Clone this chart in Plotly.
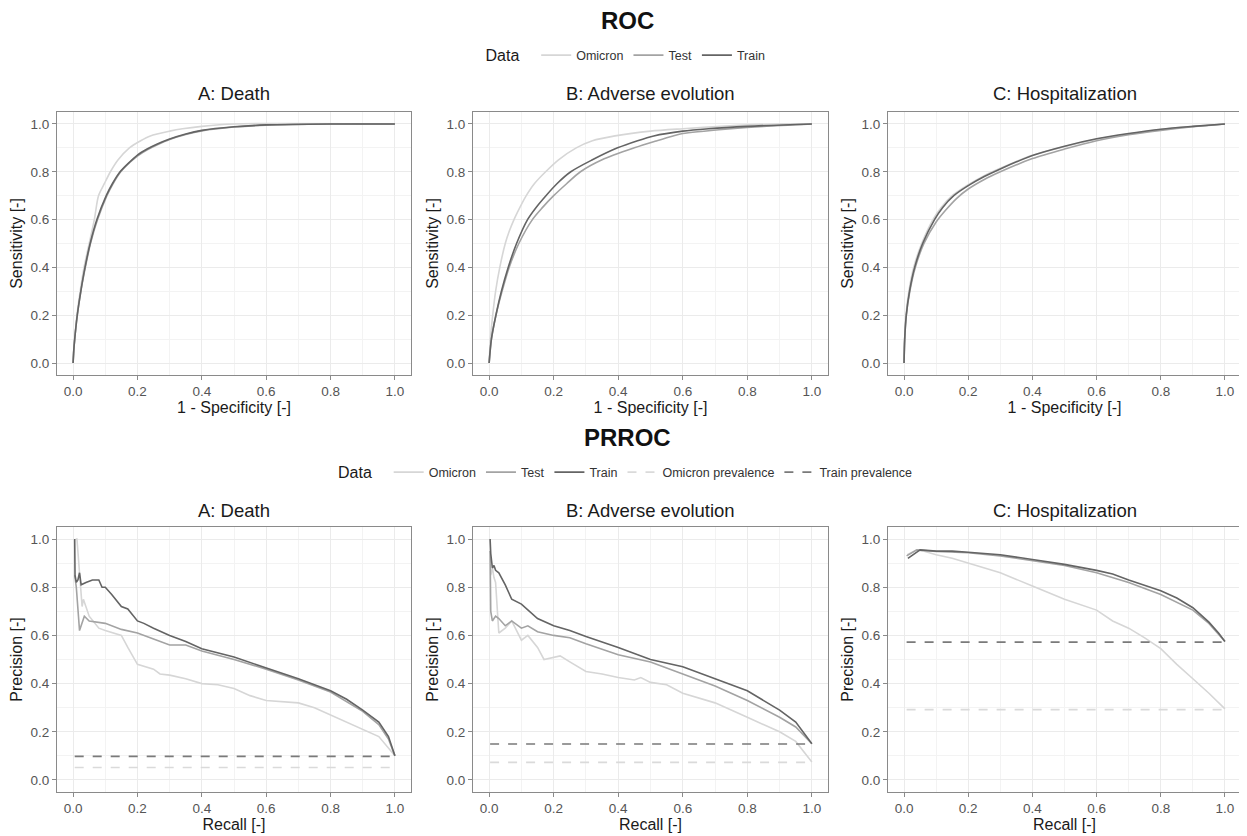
import plotly.graph_objects as go

# ---------- data ----------
PANELS = ["A: Death", "B: Adverse evolution", "C: Hospitalization"]

# ROC: 1 - specificity (x) / sensitivity (y)
roc_death_train_x = [0, 0.002, 0.005, 0.013, 0.024, 0.037, 0.053, 0.074, 0.103, 0.122, 0.146, 0.175, 0.2, 0.23, 0.26, 0.3, 0.35, 0.4, 0.5, 0.6, 0.8, 1.0]
roc_death_train_y = [0, 0.05, 0.1, 0.2, 0.3, 0.4, 0.5, 0.6, 0.7, 0.75, 0.8, 0.84, 0.87, 0.895, 0.915, 0.937, 0.958, 0.973, 0.988, 0.996, 1.0, 1.0]
roc_death_test_x = [0, 0.002, 0.005, 0.013, 0.024, 0.038, 0.054, 0.076, 0.105, 0.124, 0.148, 0.177, 0.202, 0.232, 0.262, 0.3, 0.35, 0.4, 0.5, 0.6, 0.8, 1.0]
roc_death_test_y = [0, 0.05, 0.1, 0.2, 0.3, 0.4, 0.5, 0.6, 0.7, 0.75, 0.8, 0.84, 0.868, 0.893, 0.913, 0.935, 0.956, 0.971, 0.987, 0.995, 1.0, 1.0]
roc_death_omicron_x = [0, 0.002, 0.005, 0.012, 0.022, 0.034, 0.05, 0.066, 0.079, 0.097, 0.116, 0.14, 0.175, 0.21, 0.24, 0.3, 0.34, 0.4, 0.5, 1.0]
roc_death_omicron_y = [0, 0.05, 0.1, 0.2, 0.3, 0.4, 0.5, 0.6, 0.7, 0.75, 0.8, 0.85, 0.9, 0.93, 0.95, 0.97, 0.98, 0.99, 1.0, 1.0]

roc_adv_train_x = [0, 0.007, 0.021, 0.038, 0.059, 0.085, 0.119, 0.145, 0.176, 0.21, 0.253, 0.32, 0.398, 0.46, 0.51, 0.6, 0.68, 0.8, 1.0]
roc_adv_train_y = [0, 0.1, 0.2, 0.3, 0.4, 0.5, 0.6, 0.65, 0.7, 0.75, 0.8, 0.85, 0.9, 0.93, 0.95, 0.97, 0.98, 0.99, 1.0]
roc_adv_test_x = [0, 0.007, 0.021, 0.04, 0.062, 0.092, 0.134, 0.165, 0.2, 0.24, 0.283, 0.35, 0.45, 0.52, 0.57, 0.6, 0.75, 0.85, 1.0]
roc_adv_test_y = [0, 0.1, 0.2, 0.3, 0.4, 0.5, 0.6, 0.65, 0.7, 0.75, 0.8, 0.85, 0.9, 0.93, 0.95, 0.96, 0.98, 0.99, 1.0]
roc_adv_omicron_x = [0, 0.004, 0.011, 0.02, 0.033, 0.05, 0.062, 0.077, 0.095, 0.115, 0.14, 0.175, 0.215, 0.27, 0.32, 0.39, 0.5, 0.6, 0.72, 0.9, 1.0]
roc_adv_omicron_y = [0, 0.1, 0.2, 0.3, 0.4, 0.5, 0.55, 0.6, 0.65, 0.7, 0.75, 0.8, 0.85, 0.9, 0.93, 0.95, 0.97, 0.98, 0.99, 1.0, 1.0]

roc_hosp_train_x = [0, 0.002, 0.007, 0.017, 0.033, 0.058, 0.095, 0.12, 0.155, 0.2, 0.25, 0.3, 0.4, 0.5, 0.6, 0.7, 0.8, 0.9, 1.0]
roc_hosp_train_y = [0, 0.1, 0.2, 0.3, 0.4, 0.5, 0.6, 0.65, 0.7, 0.742, 0.78, 0.812, 0.868, 0.907, 0.938, 0.96, 0.978, 0.99, 1.0]
roc_hosp_test_x = [0, 0.002, 0.007, 0.018, 0.035, 0.062, 0.1, 0.13, 0.165, 0.2, 0.25, 0.3, 0.4, 0.5, 0.6, 0.7, 0.8, 0.9, 1.0]
roc_hosp_test_y = [0, 0.1, 0.2, 0.3, 0.4, 0.5, 0.59, 0.64, 0.69, 0.728, 0.768, 0.8, 0.855, 0.895, 0.93, 0.955, 0.973, 0.988, 1.0]
roc_hosp_omicron_x = [0, 0.002, 0.006, 0.015, 0.03, 0.055, 0.09, 0.115, 0.15, 0.2, 0.25, 0.3, 0.4, 0.5, 0.6, 0.7, 0.8, 0.9, 1.0]
roc_hosp_omicron_y = [0, 0.1, 0.2, 0.3, 0.4, 0.5, 0.6, 0.65, 0.7, 0.746, 0.784, 0.815, 0.869, 0.905, 0.936, 0.958, 0.977, 0.99, 1.0]

# PRROC: recall (x) / precision (y)
pr_death_train_x = [0.005, 0.006, 0.01, 0.015, 0.02, 0.025, 0.04, 0.06, 0.08, 0.09, 0.1, 0.12, 0.15, 0.17, 0.2, 0.22, 0.25, 0.3, 0.35, 0.4, 0.5, 0.6, 0.7, 0.8, 0.85, 0.9, 0.95, 0.98, 1.0]
pr_death_train_y = [1.0, 0.85, 0.82, 0.83, 0.86, 0.81, 0.82, 0.83, 0.83, 0.8, 0.8, 0.77, 0.72, 0.71, 0.66, 0.65, 0.63, 0.6, 0.575, 0.545, 0.51, 0.465, 0.42, 0.37, 0.335, 0.29, 0.24, 0.18, 0.1]
pr_death_test_x = [0.005, 0.01, 0.02, 0.035, 0.05, 0.1, 0.15, 0.2, 0.25, 0.3, 0.35, 0.4, 0.5, 0.6, 0.7, 0.8, 0.9, 0.95, 0.98, 1.0]
pr_death_test_y = [0.85, 0.8, 0.62, 0.68, 0.66, 0.65, 0.625, 0.61, 0.585, 0.56, 0.56, 0.535, 0.5, 0.46, 0.415, 0.365, 0.285, 0.23, 0.17, 0.1]
pr_death_omicron_x = [0.008, 0.012, 0.028, 0.032, 0.05, 0.08, 0.1, 0.15, 0.17, 0.2, 0.25, 0.27, 0.3, 0.35, 0.4, 0.45, 0.5, 0.55, 0.6, 0.65, 0.7, 0.75, 0.8, 0.85, 0.9, 0.95, 1.0]
pr_death_omicron_y = [1.0, 1.0, 0.72, 0.75, 0.68, 0.63, 0.62, 0.6, 0.55, 0.48, 0.46, 0.44, 0.435, 0.42, 0.4, 0.395, 0.38, 0.35, 0.33, 0.325, 0.32, 0.3, 0.27, 0.24, 0.21, 0.18, 0.1]

pr_adv_train_x = [0.003, 0.005, 0.01, 0.015, 0.02, 0.03, 0.05, 0.07, 0.1, 0.15, 0.2, 0.25, 0.3, 0.4, 0.5, 0.6, 0.7, 0.8, 0.9, 0.95, 1.0]
pr_adv_train_y = [1.0, 0.94, 0.88, 0.89, 0.87, 0.86, 0.81, 0.75, 0.73, 0.67, 0.64, 0.62, 0.595, 0.55, 0.5, 0.47, 0.42, 0.37, 0.29, 0.24, 0.15]
pr_adv_test_x = [0.003, 0.005, 0.01, 0.02, 0.03, 0.05, 0.07, 0.1, 0.12, 0.15, 0.2, 0.25, 0.3, 0.4, 0.5, 0.6, 0.7, 0.8, 0.9, 0.95, 1.0]
pr_adv_test_y = [0.95, 0.7, 0.66, 0.68, 0.67, 0.64, 0.66, 0.63, 0.64, 0.615, 0.6, 0.59, 0.565, 0.52, 0.49, 0.44, 0.39, 0.33, 0.26, 0.22, 0.15]
pr_adv_omicron_x = [0.005, 0.01, 0.015, 0.02, 0.03, 0.05, 0.07, 0.1, 0.12, 0.15, 0.17, 0.2, 0.22, 0.25, 0.3, 0.35, 0.4, 0.45, 0.47, 0.5, 0.55, 0.6, 0.7, 0.8, 0.9, 0.95, 1.0]
pr_adv_omicron_y = [0.85, 0.88, 0.84, 0.82, 0.61, 0.63, 0.66, 0.58, 0.6, 0.55, 0.5, 0.51, 0.515, 0.49, 0.45, 0.44, 0.425, 0.415, 0.425, 0.405, 0.395, 0.36, 0.32, 0.26, 0.2, 0.16, 0.075]

pr_hosp_train_x = [0.012, 0.05, 0.1, 0.15, 0.2, 0.3, 0.4, 0.5, 0.6, 0.65, 0.7, 0.8, 0.85, 0.9, 0.95, 0.98, 1.0]
pr_hosp_train_y = [0.92, 0.955, 0.95, 0.95, 0.945, 0.935, 0.915, 0.895, 0.87, 0.855, 0.83, 0.785, 0.755, 0.715, 0.655, 0.61, 0.575]
pr_hosp_test_x = [0.008, 0.04, 0.1, 0.2, 0.3, 0.4, 0.5, 0.6, 0.7, 0.8, 0.9, 0.95, 1.0]
pr_hosp_test_y = [0.93, 0.955, 0.948, 0.943, 0.93, 0.91, 0.89, 0.86, 0.82, 0.77, 0.705, 0.65, 0.575]
pr_hosp_omicron_x = [0.01, 0.04, 0.06, 0.1, 0.15, 0.2, 0.3, 0.4, 0.5, 0.6, 0.65, 0.7, 0.75, 0.8, 0.85, 0.9, 0.95, 1.0]
pr_hosp_omicron_y = [0.935, 0.955, 0.95, 0.935, 0.92, 0.9, 0.86, 0.805, 0.75, 0.705, 0.66, 0.63, 0.59, 0.545, 0.48, 0.42, 0.36, 0.295]

train_prevalence = [0.098, 0.149, 0.572]
omicron_prevalence = [0.052, 0.073, 0.292]

ROC = [
    {"Omicron": (roc_death_omicron_x, roc_death_omicron_y), "Test": (roc_death_test_x, roc_death_test_y), "Train": (roc_death_train_x, roc_death_train_y)},
    {"Omicron": (roc_adv_omicron_x, roc_adv_omicron_y), "Test": (roc_adv_test_x, roc_adv_test_y), "Train": (roc_adv_train_x, roc_adv_train_y)},
    {"Omicron": (roc_hosp_omicron_x, roc_hosp_omicron_y), "Test": (roc_hosp_test_x, roc_hosp_test_y), "Train": (roc_hosp_train_x, roc_hosp_train_y)},
]
PR = [
    {"Omicron": (pr_death_omicron_x, pr_death_omicron_y), "Test": (pr_death_test_x, pr_death_test_y), "Train": (pr_death_train_x, pr_death_train_y)},
    {"Omicron": (pr_adv_omicron_x, pr_adv_omicron_y), "Test": (pr_adv_test_x, pr_adv_test_y), "Train": (pr_adv_train_x, pr_adv_train_y)},
    {"Omicron": (pr_hosp_omicron_x, pr_hosp_omicron_y), "Test": (pr_hosp_test_x, pr_hosp_test_y), "Train": (pr_hosp_train_x, pr_hosp_train_y)},
]

# ---------- styling ----------
W, H = 1247, 836
OFF = 8  # page body margin
FONT = "Liberation Sans, Arial, sans-serif"
COLORS = {"Omicron": "#d6d6d6", "Test": "#a3a3a3", "Train": "#646464"}
PREV_COLORS = {"Omicron prevalence": "#dadada", "Train prevalence": "#7a7a7a"}

# panel boxes in screen pixels (left, right) and (top, bottom)
X_PIX = [(57, 411), (473, 828), (888, 1241)]
Y_PIX_ROC = (112, 375)
Y_PIX_PR = (527, 792)


def px_x(p):
    return (p - OFF) / W


def px_y(p):
    return 1 - (p - OFF) / H


fig = go.Figure()


def axis_style(title, domain, anchor):
    return dict(
        domain=domain, anchor=anchor, range=[-0.05, 1.05],
        title=dict(text=title, font=dict(size=16, color="#1a1a1a", family=FONT), standoff=3),
        tickvals=[0, 0.2, 0.4, 0.6, 0.8, 1.0], tickformat=".1f",
        tickfont=dict(size=13.5, color="#555555", family=FONT),
        ticks="outside", ticklen=4, tickcolor="#8a8a8a", tickwidth=1,
        showline=True, mirror=True, linecolor="#8a8a8a", linewidth=1,
        showgrid=True, gridcolor="#ebebeb", gridwidth=1,
        minor=dict(tickvals=[0.1, 0.3, 0.5, 0.7, 0.9], showgrid=True, gridcolor="#f3f3f3", gridwidth=1, ticks=""),
        zeroline=False, fixedrange=True,
    )


layout_axes = {}
for row, (ypix, xtitle, ytitle) in enumerate([(Y_PIX_ROC, "1 - Specificity [-]", "Sensitivity [-]"),
                                              (Y_PIX_PR, "Recall [-]", "Precision [-]")]):
    for col in range(3):
        idx = row * 3 + col + 1
        xs = "" if idx == 1 else str(idx)
        xd = [px_x(X_PIX[col][0]), px_x(X_PIX[col][1])]
        yd = [px_y(ypix[1]), px_y(ypix[0])]
        layout_axes["xaxis" + xs] = axis_style(xtitle, xd, "y" + xs)
        layout_axes["yaxis" + xs] = axis_style(ytitle, yd, "x" + xs)

# ROC curves
for col, curves in enumerate(ROC):
    ax = "" if col == 0 else str(col + 1)
    for name in ["Omicron", "Test", "Train"]:
        x, y = curves[name]
        fig.add_trace(go.Scatter(
            x=x, y=y, mode="lines", name=name, legendgroup="roc_" + name,
            showlegend=(col == 0), legend="legend",
            line=dict(color=COLORS[name], width=1.6, shape="spline", smoothing=0.8),
            xaxis="x" + ax, yaxis="y" + ax,
        ))

# PRROC curves + prevalence lines
for col, curves in enumerate(PR):
    ax = str(col + 4)
    for name in ["Omicron", "Test", "Train"]:
        x, y = curves[name]
        fig.add_trace(go.Scatter(
            x=x, y=y, mode="lines", name=name, legendgroup="pr_" + name,
            showlegend=(col == 0), legend="legend2",
            line=dict(color=COLORS[name], width=1.6),
            xaxis="x" + ax, yaxis="y" + ax,
        ))
    for name, vals in [("Omicron prevalence", omicron_prevalence), ("Train prevalence", train_prevalence)]:
        x0 = min(curves["Train"][0] + curves["Test"][0] + curves["Omicron"][0])
        fig.add_trace(go.Scatter(
            x=[x0, 1.0], y=[vals[col], vals[col]], mode="lines", name=name,
            legendgroup="pr_" + name, showlegend=(col == 0), legend="legend2",
            line=dict(color=PREV_COLORS[name], width=1.6, dash="dash"),
            xaxis="x" + ax, yaxis="y" + ax,
        ))

annotations = [
    dict(text="<b>ROC</b>", x=px_x(627), y=px_y(21), xref="paper", yref="paper",
         xanchor="center", yanchor="middle",
         showarrow=False, font=dict(size=24, color="#111111", family=FONT)),
    dict(text="<b>PRROC</b>", x=px_x(627), y=px_y(438), xref="paper", yref="paper",
         xanchor="center", yanchor="middle",
         showarrow=False, font=dict(size=24, color="#111111", family=FONT)),
]
for col, name in enumerate(PANELS):
    cx = px_x((X_PIX[col][0] + X_PIX[col][1]) / 2)
    for ymid in (93, 510):
        annotations.append(dict(text=name, x=cx, y=px_y(ymid), xref="paper", yref="paper",
                                xanchor="center", yanchor="middle",
                                showarrow=False, font=dict(size=18.5, color="#1a1a1a", family=FONT)))

legend_common = dict(
    orientation="h", xanchor="center", yanchor="middle",
    title=dict(text="Data  ", font=dict(size=16, color="#1a1a1a", family=FONT), side="left"),
    font=dict(size=12.5, color="#333333", family=FONT),
    itemwidth=30, bgcolor="rgba(0,0,0,0)", traceorder="normal",
)

fig.update_layout(
    width=W, height=H,
    margin=dict(l=0, r=0, t=0, b=0),
    paper_bgcolor="white", plot_bgcolor="white",
    font=dict(family=FONT),
    annotations=annotations,
    legend=dict(x=px_x(627), y=px_y(56), **legend_common),
    legend2=dict(x=px_x(627), y=px_y(473), **legend_common),
    **layout_axes,
)

fig.write_html("out.html")
